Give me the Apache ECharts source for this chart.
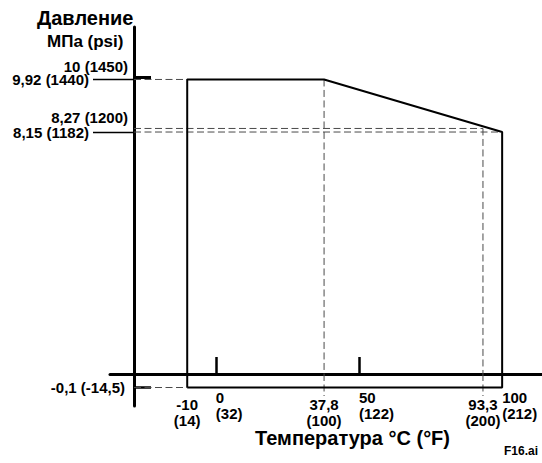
<!DOCTYPE html>
<html>
<head>
<meta charset="utf-8">
<script src="https://cdn.jsdelivr.net/npm/echarts@6/dist/echarts.min.js"></script>
<style>
html, body { margin: 0; padding: 0; background: #fff; }
#chart { width: 542px; height: 463px; }
</style>
</head>
<body>
<div id="chart"></div>
<script>
// ---------- data ----------
const TEMP_C          = [-10, 0, 37.8, 50, 93.3, 100];
const TEMP_C_LABELS   = ['-10', '0', '37,8', '50', '93,3', '100'];
const TEMP_F_LABELS   = ['(14)', '(32)', '(100)', '(122)', '(200)', '(212)'];
const TEMP_TICKS      = [0, 50];
const TEMP_LABELS_LOW = [-10, 37.8, 93.3];
const TEMP_LABELS_HIGH = [0, 50, 100];

const PRESS_MPA        = [10, 9.92, 8.27, 8.15, -0.1];
const PRESS_MPA_LABELS = ['10', '9,92', '8,27', '8,15', '-0,1'];
const PRESS_PSI_LABELS = ['(1450)', '(1440)', '(1200)', '(1182)', '(-14,5)'];
const PRESS_LABELS_ABOVE = [10, 8.27];
const PRESS_LABELS_LEADER = [9.92, 8.15];
const PRESS_TICK_TOP = [10];
const PRESS_TICK_BOTTOM = [-0.1];

// operating envelope (closed outline)
const ENVELOPE_T = [-10, -10, 37.8, 100, 100, -10];
const ENVELOPE_P = [-0.1, 9.92, 9.92, 8.15, -0.1, -0.1];

// dashed guide lines
const GUIDE_H_P = [9.92, 8.27, 8.15, -0.1];
const GUIDE_H_T = [-10, 93.3, 100, -10];
const GUIDE_V_T = [37.8, 93.3];
const GUIDE_V_P = [9.92, 8.27];

// ---------- layout ----------
const FONT = "'Liberation Sans', Arial, sans-serif";
const GRID_LEFT = 110, GRID_W = 432, AXIS_SHIFT = 24;
const X_MIN = -36.97, X_MAX = 113.92;
const T_AT_AXIS = X_MIN + (X_MAX - X_MIN) * AXIS_SHIFT / GRID_W;
const Y_TOP_MAX = 11.687;
const Y_BOT_MIN = -0.237;
const EXT_P = -0.163; // extension of vertical guide lines below the envelope

function cLabel(v) {
  const i = TEMP_C.indexOf(v);
  return i < 0 ? '' : TEMP_C_LABELS[i] + '\n' + TEMP_F_LABELS[i];
}
function pLabel(v) {
  const i = PRESS_MPA.indexOf(v);
  return i < 0 ? '' : PRESS_MPA_LABELS[i] + ' ' + PRESS_PSI_LABELS[i];
}

// split a polyline into the parts above / below pressure 0 (two stacked grids)
function splitRuns(pts, upper) {
  const inside = p => upper ? p[1] >= 0 : p[1] <= 0;
  const runs = [];
  let cur = null;
  for (let i = 0; i < pts.length - 1; i++) {
    const a = pts[i], b = pts[i + 1];
    const ia = inside(a), ib = inside(b);
    if (ia && !cur) cur = [a];
    if (ia && ib) {
      cur.push(b);
    } else if (ia !== ib) {
      const f = (0 - a[1]) / (b[1] - a[1]);
      const c = [a[0] + f * (b[0] - a[0]), 0];
      if (ia) { cur.push(c); runs.push(cur); cur = null; }
      else { cur = [c, b]; }
    }
  }
  if (cur && cur.length > 1) runs.push(cur);
  return runs;
}

const series = [];
function addPath(pts, lineStyle, z) {
  [[true, 0], [false, 2]].forEach(([up, idx]) => {
    splitRuns(pts, up).forEach(run => {
      series.push({
        type: 'line', xAxisIndex: idx, yAxisIndex: idx,
        data: run, symbol: 'none', showSymbol: false, silent: true,
        clip: false, animation: false, z: z, lineStyle: lineStyle
      });
    });
  });
}

const dashStyle = { color: '#4a4a4a', width: 1, type: [7, 3.5] };
const boxStyle = { color: '#000', width: 2 };

GUIDE_H_P.forEach((p, i) => addPath([[T_AT_AXIS, p], [GUIDE_H_T[i], p]], dashStyle, 2));
GUIDE_V_T.forEach((t, i) => addPath([[t, GUIDE_V_P[i]], [t, EXT_P]], dashStyle, 2));
addPath(ENVELOPE_T.map((t, i) => [t, ENVELOPE_P[i]]), boxStyle, 3);

const labelBase = { fontFamily: FONT, fontSize: 15, fontWeight: 'bold', color: '#000', hideOverlap: false };

const chart = echarts.init(document.getElementById('chart'), null, { renderer: 'svg' });
chart.setOption({
  animation: false,
  backgroundColor: '#fff',
  title: [
    { text: 'Давление', left: 37, top: 8, padding: 0,
      textStyle: { fontFamily: FONT, fontSize: 20, fontWeight: 'bold', color: '#000' } },
    { text: 'МПа (psi)', left: 47, top: 33, padding: 0,
      textStyle: { fontFamily: FONT, fontSize: 17, fontWeight: 'bold', color: '#000' } },
    { text: 'Температура °C (°F)', left: 255, top: 428, padding: 0,
      textStyle: { fontFamily: FONT, fontSize: 20, fontWeight: 'bold', color: '#000' } },
    { text: 'F16.ai', right: 4, top: 445, padding: 0,
      textStyle: { fontFamily: FONT, fontSize: 12, fontWeight: 'bold', color: '#000' } }
  ],
  grid: [
    { left: GRID_LEFT, width: GRID_W, top: 27, height: 347 },
    { left: GRID_LEFT, width: GRID_W, top: 374, height: 32 }
  ],
  xAxis: [
    { type: 'value', gridIndex: 0, min: X_MIN, max: X_MAX, position: 'bottom',
      axisLine: { show: true, onZero: false, lineStyle: { color: '#000', width: 3 } },
      axisTick: { show: true, customValues: TEMP_TICKS, inside: true, length: 17, lineStyle: { color: '#000', width: 2.5 } },
      axisLabel: Object.assign({ customValues: TEMP_LABELS_LOW, formatter: cLabel, margin: 22, align: 'center', lineHeight: 16 }, labelBase),
      splitLine: { show: false } },
    { type: 'value', gridIndex: 0, min: X_MIN, max: X_MAX, position: 'bottom',
      axisLine: { show: false, onZero: false },
      axisTick: { show: false },
      axisLabel: Object.assign({ customValues: TEMP_LABELS_HIGH, formatter: cLabel, margin: 15, align: 'left', lineHeight: 16 }, labelBase),
      splitLine: { show: false } },
    { type: 'value', gridIndex: 1, min: X_MIN, max: X_MAX, show: false,
      axisLine: { show: false, onZero: false }, splitLine: { show: false } }
  ],
  yAxis: [
    { type: 'value', gridIndex: 0, min: 0, max: Y_TOP_MAX, position: 'left', offset: -AXIS_SHIFT,
      axisLine: { show: true, onZero: false, lineStyle: { color: '#000', width: 3 } },
      axisTick: { show: true, customValues: PRESS_TICK_TOP, inside: true, length: 17, lineStyle: { color: '#000', width: 3 } },
      axisLabel: Object.assign({ customValues: PRESS_LABELS_ABOVE, formatter: pLabel, margin: 6, verticalAlign: 'bottom', lineHeight: 15, padding: [0, 0, 3, 0] }, labelBase),
      splitLine: { show: false } },
    { type: 'value', gridIndex: 0, min: 0, max: Y_TOP_MAX, position: 'left', offset: -AXIS_SHIFT,
      axisLine: { show: false, onZero: false },
      axisTick: { show: true, customValues: PRESS_LABELS_LEADER, inside: false, length: 41, lineStyle: { color: '#000', width: 1.3 } },
      axisLabel: Object.assign({ customValues: PRESS_LABELS_LEADER, formatter: pLabel, margin: 45, verticalAlign: 'middle', lineHeight: 15, padding: [3, 0, 0, 0] }, labelBase),
      splitLine: { show: false } },
    { type: 'value', gridIndex: 1, min: Y_BOT_MIN, max: 0, position: 'left', offset: -AXIS_SHIFT,
      axisLine: { show: true, onZero: false, lineStyle: { color: '#000', width: 3 } },
      axisTick: { show: true, customValues: PRESS_TICK_BOTTOM, inside: true, length: 17, lineStyle: { color: '#000', width: 2.5 } },
      axisLabel: Object.assign({ customValues: PRESS_TICK_BOTTOM, formatter: pLabel, margin: 9, verticalAlign: 'middle', lineHeight: 15 }, labelBase),
      splitLine: { show: false } }
  ],
  series: series
});
</script>
</body>
</html>
